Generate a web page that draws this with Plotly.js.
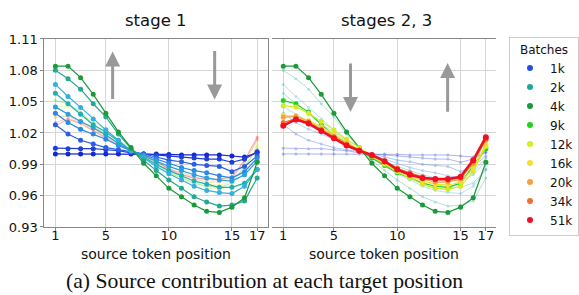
<!DOCTYPE html>
<html><head><meta charset="utf-8">
<script src="https://cdn.plot.ly/plotly-3.0.1.min.js"></script>
<style>html,body{margin:0;padding:0;background:#fff}#chart{width:579px;height:295px}</style>
</head><body><div id="chart"></div>
<script>
const positions = [1,2,3,4,5,6,7,8,9,10,11,12,13,14,15,16,17];
const xTicks = [1,5,10,15,17];
const yTicks = [0.93,0.96,0.99,1.02,1.05,1.08,1.11];

// stage 1 checkpoints (1k ... 4k), bold in left panel
const s1a = [1.000,1.000,1.000,1.000,1.000,1.000,1.000,1.000,1.000,0.9995,0.999,0.999,0.999,0.999,0.998,0.997,1.001];
const s1b = [1.0055,1.005,1.005,1.005,1.004,1.003,1.001,1.000,0.999,0.998,0.997,0.996,0.995,0.995,0.992,0.995,1.002];
const s1c = [1.028,1.019,1.013,1.0095,1.006,1.004,1.002,1.000,0.997,0.994,0.9925,0.990,0.989,0.988,0.983,0.988,0.998];
const s1d = [1.039,1.030,1.0235,1.019,1.014,1.008,1.003,0.999,0.995,0.991,0.987,0.984,0.982,0.979,0.977,0.983,0.996];
const s1e = [1.045,1.038,1.031,1.025,1.018,1.010,1.003,0.998,0.993,0.988,0.984,0.980,0.977,0.975,0.974,0.980,0.993];
const s1f = [1.058,1.048,1.038,1.028,1.021,1.012,1.003,0.997,0.990,0.984,0.979,0.974,0.971,0.968,0.968,0.972,0.985];
const s1g = [1.0665,1.055,1.0445,1.0335,1.023,1.013,1.003,0.996,0.988,0.981,0.975,0.969,0.965,0.963,0.962,0.969,0.985];
const s1h = [1.080,1.072,1.062,1.048,1.0355,1.019,1.005,0.994,0.984,0.975,0.967,0.959,0.954,0.950,0.951,0.955,0.977];
const s1_4k = [1.084,1.084,1.073,1.057,1.039,1.021,1.006,0.991,0.979,0.967,0.959,0.951,0.945,0.944,0.949,0.958,0.992];

// stages 2,3 checkpoints
const s2_9k  = [1.051,1.048,1.040,1.028,1.018,1.010,1.004,0.996,0.989,0.982,0.977,0.972,0.969,0.968,0.972,0.988,1.005];
const s2_12k = [1.046,1.045,1.039,1.031,1.023,1.014,1.006,0.998,0.990,0.983,0.977,0.971,0.967,0.966,0.969,0.983,1.007];
const s2_16k = [1.037,1.036,1.032,1.026,1.019,1.011,1.004,0.998,0.991,0.985,0.979,0.974,0.971,0.970,0.973,0.986,1.009];
const s2_20k = [1.035,1.036,1.031,1.024,1.017,1.010,1.004,0.998,0.992,0.986,0.981,0.976,0.973,0.973,0.976,0.991,1.013];
const s2_34k = [1.030,1.034,1.030,1.023,1.016,1.009,1.003,0.998,0.993,0.986,0.982,0.978,0.975,0.975,0.977,0.993,1.014];
const s2_51k = [1.027,1.033,1.029,1.022,1.015,1.008,1.003,0.999,0.993,0.985,0.980,0.977,0.976,0.976,0.978,0.994,1.016];

const legendBatches = ['1k','2k','4k','9k','12k','16k','20k','34k','51k'];
const legendColors = ['#1f4fe6','#1fa89a','#1a9a3a','#22d022','#d2ec20','#f2e030','#f8a040','#f57030','#f01020'];

const stage1 = [s1a,s1b,s1c,s1d,s1e,s1f,s1g,s1h];
const stage1Colors = ['#1428d2','#1f3ed8','#2a5ee6','#2b88e6','#2aa0e0','#20b0b0','#35aee0','#25a890'];
const stage2 = [s2_9k,s2_12k,s2_16k,s2_20k,s2_34k,s2_51k];
const stage2Colors = ['#22d022','#d2ec20','#f2e030','#f8a040','#f57030','#f01020'];
const color4k = '#1a9a3a';

const traces = [];
function add(y, color, xa, bold, thick){
  traces.push({x: positions, y: y, xaxis: xa, yaxis: 'y', mode: 'lines+markers', showlegend: false,
    hoverinfo: 'skip',
    opacity: bold ? 1 : 0.35,
    line: {color: color, width: bold ? (thick ? 2.6 : 1.2) : 1},
    marker: {color: color, size: bold ? (thick ? 6 : 5) : 3}});
}
stage2.forEach((s,i)=>add(s, stage2Colors[i], 'x', false));
stage1.forEach((s,i)=>add(s, stage1Colors[i], 'x', true));
add(s1_4k, color4k, 'x', true);
stage1.forEach((s,i)=>add(s, stage1Colors[i], 'x2', false));
add(s1_4k, color4k, 'x2', true);
stage2.forEach((s,i)=>add(s, stage2Colors[i], 'x2', true, i===stage2.length-1));
legendBatches.forEach((b,i)=>traces.push({x:[null], y:[null], xaxis:'x', yaxis:'y', mode:'markers', name:b,
  marker:{color: legendColors[i], size:6}, showlegend:true}));

const FF = 'DejaVu Sans';
const axX = (dom)=>({domain: dom, range: [0.12, 17.83], tickvals: xTicks, ticktext: xTicks.map(String),
  showgrid: true, gridcolor: '#d6d6d6', gridwidth: 1, zeroline: false,
  showline: true, mirror: true, linecolor: '#888', linewidth: 1,
  ticks: 'outside', ticklen: 3, tickcolor: '#888', ticklabelstandoff: -7,
  tickfont: {family: FF, size: 13, color: '#111'}});
const layout = {
  width: 579, height: 295, margin: {l:0, r:0, t:0, b:0}, paper_bgcolor: '#fff', plot_bgcolor: '#fff',
  font: {family: FF, color: '#111'},
  xaxis: Object.assign(axX([0.0769, 0.4646]), {anchor: 'y'}),
  xaxis2: Object.assign(axX([0.4724, 0.8618]), {anchor: 'y'}),
  yaxis: {domain: [0.2305, 0.8678], range: [0.93, 1.11], tickvals: yTicks, ticktext: yTicks.map(v=>v.toFixed(2)),
    showgrid: true, gridcolor: '#d6d6d6', zeroline: false, showline: true, mirror: true, linecolor: '#888',
    ticks: 'outside', ticklen: 3, tickcolor: '#888', tickfont: {family: FF, size: 13, color: '#111'}, anchor: 'x'},
  showlegend: true,
  legend: {x: 0.8843, y: 0.8746, xanchor: 'left', yanchor: 'top', bordercolor: '#cccccc', borderwidth: 1,
    font: {family: FF, size: 12, color: '#111'},
    title: {text: 'Batches', side: 'top center', font: {family: FF, size: 12, color: '#111'}}},
  annotations: [
    {text: 'stage 1', xref: 'paper', yref: 'paper', x: 157/579, y: 1 - 20/295, showarrow: false,
      font: {family: FF, size: 16.5, color: '#111'}, xanchor: 'center', yanchor: 'middle'},
    {text: 'stages 2, 3', xref: 'paper', yref: 'paper', x: 389/579, y: 1 - 20/295, showarrow: false,
      font: {family: FF, size: 16.5, color: '#111'}, xanchor: 'center', yanchor: 'middle'},
    {text: 'source token position', xref: 'paper', yref: 'paper', x: 157/579, y: 1 - 253.5/295, showarrow: false,
      font: {family: FF, size: 14, color: '#111'}, xanchor: 'center', yanchor: 'middle'},
    {text: 'source token position', xref: 'paper', yref: 'paper', x: 386/579, y: 1 - 253.5/295, showarrow: false,
      font: {family: FF, size: 14, color: '#111'}, xanchor: 'center', yanchor: 'middle'},
    {text: '(a) Source contribution at each target position', xref: 'paper', yref: 'paper', x: 265.5/579, y: 1 - 280.5/295,
      showarrow: false, font: {family: 'Liberation Serif', size: 21.7, color: '#111'}, xanchor: 'center', yanchor: 'middle'},
    {x: 5.54, y: 1.098, ax: 5.54, ay: 1.051, xref: 'x', yref: 'y', axref: 'x', ayref: 'y', text: '', showarrow: true,
      arrowhead: 2, arrowsize: 1, arrowwidth: 3, arrowcolor: '#999'},
    {x: 13.63, y: 1.052, ax: 13.63, ay: 1.100, xref: 'x', yref: 'y', axref: 'x', ayref: 'y', text: '', showarrow: true,
      arrowhead: 2, arrowsize: 1, arrowwidth: 3, arrowcolor: '#999'},
    {x: 6.31, y: 1.040, ax: 6.31, ay: 1.088, xref: 'x2', yref: 'y', axref: 'x2', ayref: 'y', text: '', showarrow: true,
      arrowhead: 2, arrowsize: 1, arrowwidth: 3, arrowcolor: '#999'},
    {x: 13.98, y: 1.087, ax: 13.98, ay: 1.039, xref: 'x2', yref: 'y', axref: 'x2', ayref: 'y', text: '', showarrow: true,
      arrowhead: 2, arrowsize: 1, arrowwidth: 3, arrowcolor: '#999'}
  ]
};
Plotly.newPlot('chart', traces, layout, {displayModeBar: false, staticPlot: true});
</script></body></html>
